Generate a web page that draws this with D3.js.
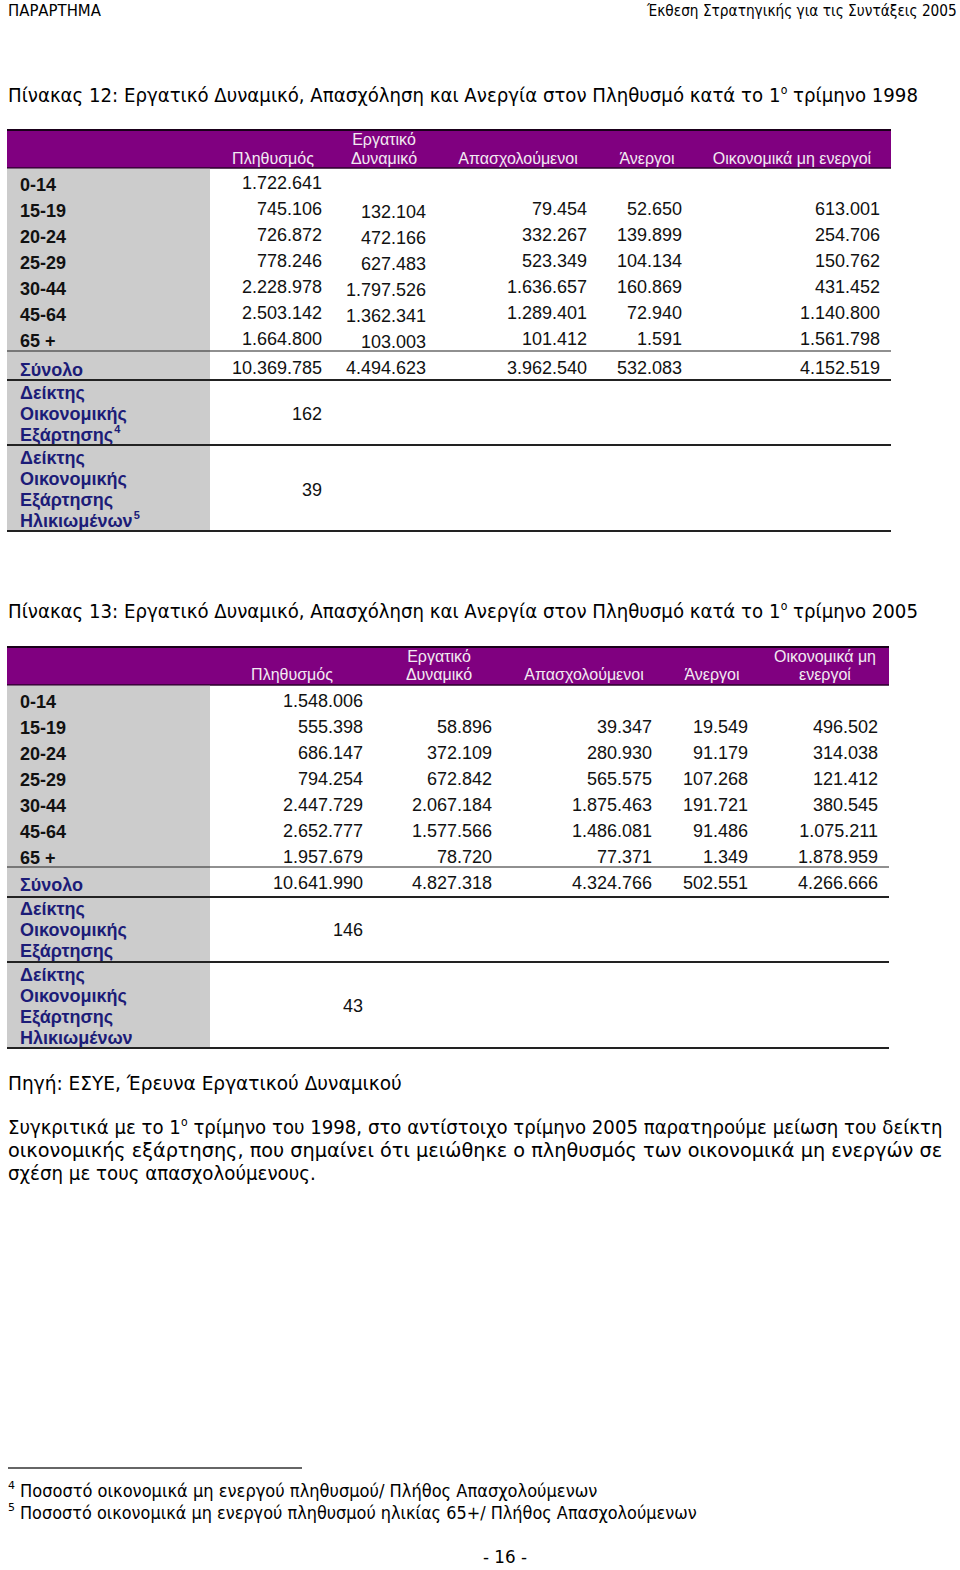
<!DOCTYPE html>
<html><head><meta charset="utf-8">
<script src="https://cdn.jsdelivr.net/npm/d3@7"></script>
<style>body{margin:0;background:#fff}svg{display:block}text{white-space:pre}</style>
</head><body>
<svg id="c" width="960" height="1570"></svg>
<script>
// ---------- DATA ----------
const ageGroups = ["0-14","15-19","20-24","25-29","30-44","45-64","65 +"];
const totalLabel = "Σύνολο";
const headers1998 = [["Πληθυσμός"],["Εργατικό","Δυναμικό"],["Απασχολούμενοι"],["Άνεργοι"],["Οικονομικά μη ενεργοί"]];
const headers2005 = [["Πληθυσμός"],["Εργατικό","Δυναμικό"],["Απασχολούμενοι"],["Άνεργοι"],["Οικονομικά μη","ενεργοί"]];

const pop1998        = [1722641,745106,726872,778246,2228978,2503142,1664800];
const labour1998     = [null,132104,472166,627483,1797526,1362341,103003];
const employed1998   = [null,79454,332267,523349,1636657,1289401,101412];
const unemployed1998 = [null,52650,139899,104134,160869,72940,1591];
const inactive1998   = [null,613001,254706,150762,431452,1140800,1561798];
const totals1998     = [10369785,4494623,3962540,532083,4152519];
const indices1998    = [162,39];

const pop2005        = [1548006,555398,686147,794254,2447729,2652777,1957679];
const labour2005     = [null,58896,372109,672842,2067184,1577566,78720];
const employed2005   = [null,39347,280930,565575,1875463,1486081,77371];
const unemployed2005 = [null,19549,91179,107268,191721,91486,1349];
const inactive2005   = [null,496502,314038,121412,380545,1075211,1878959];
const totals2005     = [10641990,4827318,4324766,502551,4266666];
const indices2005    = [146,43];

const indexLabels1998 = [["Δείκτης","Οικονομικής","Εξάρτησης|4"],["Δείκτης","Οικονομικής","Εξάρτησης","Ηλικιωμένων|5"]];
const indexLabels2005 = [["Δείκτης","Οικονομικής","Εξάρτησης"],["Δείκτης","Οικονομικής","Εξάρτησης","Ηλικιωμένων"]];

// ---------- SETUP ----------
const svg = d3.select("#c");
const fmt = d3.formatLocale({decimal:",",thousands:".",grouping:[3],currency:["","€"]}).format(",d");
const PURPLE = "#800080", GREY = "#cccccc", NAVY = "#1c1c78", LINE = "#222";
const sansTxt = "'DejaVu Sans', Verdana, sans-serif";
const arial = "'Liberation Sans', Arial, sans-serif";

// Draws a run of text pieces (some superscript) and scales horizontally to fit `width`.
function fitText(parent, x, y, parts, width, opts) {
  opts = opts || {};
  const size = opts.size || 19;
  const g = parent.append("g");
  const inner = g.append("g");
  let cx = 0;
  parts.forEach(p => {
    const s = p.sup ? size * 0.6 : size;
    const t = inner.append("text").attr("x", cx).attr("y", p.sup ? -size*0.4 : 0)
      .attr("font-family", opts.family || sansTxt).attr("font-size", s)
      .attr("fill", opts.fill || "#000").text(p.t.replace(/^ /, "\u00a0"));
    cx += t.node().getComputedTextLength();
  });
  const sx = width ? width / cx : 1;
  const tx = opts.anchor === "end" ? x - cx*sx : (opts.anchor === "middle" ? x - cx*sx/2 : x);
  inner.attr("transform", `scale(${sx},1)`);
  g.attr("transform", `translate(${tx},${y})`);
  return g;
}

// ---------- PAGE HEADER ----------
fitText(svg, 8, 16, [{t:"ΠΑΡΑΡΤΗΜΑ"}], 93, {size:15});
fitText(svg, 957, 16, [{t:"Έκθεση Στρατηγικής για τις Συντάξεις 2005"}], 310, {size:15, anchor:"end"});

// ---------- TABLE DRAW ----------
function drawTable(cfg) {
  const g = svg.append("g");
  fitText(g, 8, cfg.titleY, [{t: cfg.titlePre}, {t:"ο", sup:true}, {t: cfg.titlePost}], 910, {size:19});

  const x0 = 7, x1 = cfg.right;
  g.append("rect").attr("x",x0).attr("y",cfg.headTop).attr("width",x1-x0).attr("height",cfg.headBot-cfg.headTop).attr("fill",PURPLE);
  g.append("line").attr("x1",x0).attr("x2",x1).attr("y1",cfg.headTop+1).attr("y2",cfg.headTop+1).attr("stroke","#1a001a").attr("stroke-width",2);
  g.append("line").attr("x1",x0).attr("x2",x1).attr("y1",cfg.headBot).attr("y2",cfg.headBot).attr("stroke","#2a002a").attr("stroke-width",1.5);

  cfg.headers.forEach((lines, j) => {
    const ys = lines.length === 1 ? [cfg.headLine2] : [cfg.headLine1, cfg.headLine2];
    lines.forEach((ln, k) => {
      g.append("text").attr("x", cfg.headCenters[j]).attr("y", ys[k]).attr("text-anchor","middle")
        .attr("font-family", arial).attr("font-size", 16).attr("fill","#f2eaf2").text(ln);
    });
  });

  g.append("rect").attr("x",x0).attr("y",cfg.headBot+0.75).attr("width",210-x0).attr("height",cfg.bottom-cfg.headBot-0.75).attr("fill",GREY);

  const y = d3.scaleBand().domain(ageGroups).range([cfg.rowStart, cfg.rowStart + cfg.step*ageGroups.length]);
  const series = cfg.series;

  ageGroups.forEach((a, i) => {
    const cy = y(a) + y.bandwidth()/2;
    g.append("text").attr("x",20).attr("y",cy+6.5).attr("font-family",arial).attr("font-weight","bold")
      .attr("font-size",18).attr("fill","#111").text(a);
    series.forEach((s, j) => {
      if (s[i] == null) return;
      g.append("text").attr("x",cfg.colRight[j]).attr("y",cy+6.5+cfg.colDy[j]).attr("text-anchor","end")
        .attr("font-family",arial).attr("font-size",18).attr("fill","#111").text(fmt(s[i]));
    });
  });

  g.append("line").attr("x1",x0).attr("x2",x1).attr("y1",cfg.lineAfterRows).attr("y2",cfg.lineAfterRows).attr("stroke",LINE).attr("stroke-width",1.2);
  g.append("text").attr("x",20).attr("y",cfg.totalY+6.5).attr("font-family",arial).attr("font-weight","bold")
    .attr("font-size",18).attr("fill",NAVY).text(totalLabel);
  cfg.totals.forEach((v, j) => {
    g.append("text").attr("x",cfg.colRight[j]).attr("y",cfg.totalY+5).attr("text-anchor","end")
      .attr("font-family",arial).attr("font-size",18).attr("fill","#111").text(fmt(v));
  });
  g.append("line").attr("x1",x0).attr("x2",x1).attr("y1",cfg.lineAfterTotal).attr("y2",cfg.lineAfterTotal).attr("stroke",LINE).attr("stroke-width",2);

  cfg.indexBlocks.forEach((b, k) => {
    cfg.indexLabels[k].forEach((ln, m) => {
      const [txt, sup] = ln.split("|");
      const t = g.append("text").attr("x",20).attr("y",b.firstLine + m*21 + 6.5).attr("font-family",arial)
        .attr("font-weight","bold").attr("font-size",18).attr("fill",NAVY).text(txt);
      if (sup) {
        const w = t.node().getComputedTextLength();
        g.append("text").attr("x",21 + w).attr("y",b.firstLine + m*21 - 1.5).attr("font-family",arial)
          .attr("font-weight","bold").attr("font-size",11).attr("fill",NAVY).text(sup);
      }
    });
    g.append("text").attr("x",cfg.colRight[0]).attr("y",b.valueY+6.5).attr("text-anchor","end")
      .attr("font-family",arial).attr("font-size",18).attr("fill","#111").text(cfg.indices[k]);
    g.append("line").attr("x1",x0).attr("x2",x1).attr("y1",b.lineY).attr("y2",b.lineY).attr("stroke",LINE).attr("stroke-width",2);
  });
}

drawTable({
  titleY: 102, titlePre: "Πίνακας 12: Εργατικό Δυναμικό, Απασχόληση και Ανεργία στον Πληθυσμό κατά το 1", titlePost: " τρίμηνο 1998",
  right: 891, headTop: 129, headBot: 168, headLine1: 145, headLine2: 164,
  headers: headers1998, headCenters: [273, 384, 518, 647, 792],
  rowStart: 171, step: 26,
  series: [pop1998, labour1998, employed1998, unemployed1998, inactive1998],
  colRight: [322, 426, 587, 682, 880], colDy: [-2, 1, -2, -2, -2],
  lineAfterRows: 351, totalY: 369, totals: totals1998, lineAfterTotal: 380,
  indexLabels: indexLabels1998, indices: indices1998,
  indexBlocks: [{firstLine:392, valueY:413, lineY:445},{firstLine:457, valueY:489, lineY:531}],
  bottom: 531
});

drawTable({
  titleY: 618, titlePre: "Πίνακας 13: Εργατικό Δυναμικό, Απασχόληση και Ανεργία στον Πληθυσμό κατά το 1", titlePost: " τρίμηνο 2005",
  right: 889, headTop: 646, headBot: 685, headLine1: 662, headLine2: 680,
  headers: headers2005, headCenters: [292, 439, 584, 712, 825],
  rowStart: 688, step: 26,
  series: [pop2005, labour2005, employed2005, unemployed2005, inactive2005],
  colRight: [363, 492, 652, 748, 878], colDy: [-1, -1, -1, -1, -1],
  lineAfterRows: 867, totalY: 884, totals: totals2005, lineAfterTotal: 897,
  indexLabels: indexLabels2005, indices: indices2005,
  indexBlocks: [{firstLine:908, valueY:929, lineY:962},{firstLine:974, valueY:1005, lineY:1048}],
  bottom: 1048
});

// ---------- SOURCE / PARAGRAPH ----------
fitText(svg, 8, 1090, [{t:"Πηγή: ΕΣΥΕ, Έρευνα Εργατικού Δυναμικού"}], 394, {size:19});
fitText(svg, 8, 1134, [{t:"Συγκριτικά με το 1"},{t:"ο",sup:true},{t:" τρίμηνο του 1998, στο αντίστοιχο τρίμηνο 2005 παρατηρούμε μείωση του δείκτη"}], 935, {size:19});
fitText(svg, 8, 1157, [{t:"οικονομικής εξάρτησης, που σημαίνει ότι μειώθηκε ο πληθυσμός των οικονομικά μη ενεργών σε"}], 935, {size:19});
fitText(svg, 8, 1180, [{t:"σχέση με τους απασχολούμενους."}], 308, {size:19});

// ---------- FOOTNOTES ----------
svg.append("line").attr("x1",8).attr("x2",302).attr("y1",1468).attr("y2",1468).attr("stroke","#333").attr("stroke-width",1.3);
[["4","Ποσοστό οικονομικά μη ενεργού πληθυσμού/ Πλήθος Απασχολούμενων",1497,578],
 ["5","Ποσοστό οικονομικά μη ενεργού πληθυσμού ηλικίας 65+/ Πλήθος Απασχολούμενων",1519,677]].forEach(f => {
  svg.append("text").attr("x",8).attr("y",f[2]-8).attr("font-family",sansTxt).attr("font-size",11).text(f[0]);
  fitText(svg, 20, f[2], [{t:f[1]}], f[3], {size:18});
});
fitText(svg, 505, 1563, [{t:"- 16 -"}], 44, {size:17, anchor:"middle"});
</script>
</body></html>
